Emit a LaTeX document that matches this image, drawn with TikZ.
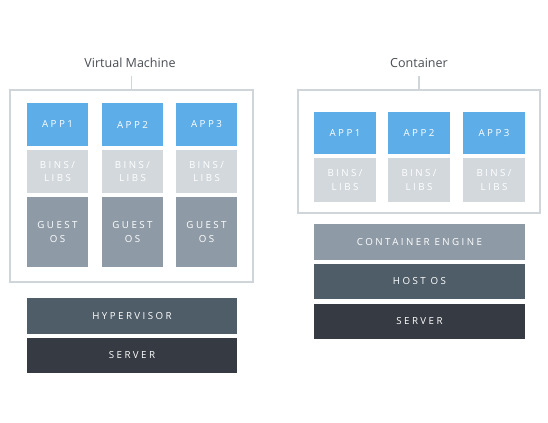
\documentclass[tikz,border=0pt]{standalone}
\usepackage{fontspec}
\setmainfont{Open Sans}
\newfontfamily\lblfont[LetterSpace=25]{Open Sans}
\definecolor{appblue}{HTML}{5DADE8}
\definecolor{binsgray}{HTML}{D3D8DC}
\definecolor{guestgray}{HTML}{8E9BA6}
\definecolor{hypgray}{HTML}{4E5D67}
\definecolor{servgray}{HTML}{363A42}
\definecolor{framegray}{HTML}{D0D5D9}
\definecolor{titlegray}{HTML}{4A4F55}
\begin{document}
\begin{tikzpicture}[x=0.75pt,y=-0.75pt,
  blk/.style={draw=none, inner sep=0pt, text=white, font=\lblfont\fontsize{7.3}{9.8}\selectfont, align=center},
  app/.style={blk, fill=appblue, minimum width=61*0.75pt, minimum height=43*0.75pt},
  bins/.style={blk, fill=binsgray, minimum width=61*0.75pt, minimum height=43*0.75pt},
  guest/.style={blk, fill=guestgray, minimum width=61*0.75pt, minimum height=70*0.75pt},
  wide/.style={blk, minimum width=210*0.75pt, minimum height=36*0.75pt},
  frame/.style={draw=framegray, line width=1.3pt, fill=white, inner sep=0pt},
  ttl/.style={text=titlegray, font=\fontsize{9.4}{11}\selectfont, inner sep=1pt},
  conn/.style={draw=framegray, line width=1.3pt}]
\useasboundingbox[fill=white] (0,0) rectangle (548,422);
% Virtual machine
\node[ttl] (vmt) at (130,63) {Virtual Machine};
\node[frame, minimum width=243*0.75pt, minimum height=192*0.75pt] (vm) at (131.5,186) {};
\draw[conn] (vm.north) -- ++(0,-13) coordinate (vmtop);
\node[app] (va1) at (57.5,124.5) {APP1};
\node[app] (va2) at (132.5,124.5) {APP2};
\node[app] (va3) at (206.5,124.5) {APP3};
\node[bins] (vb1) at (57.5,171.5) {BINS/\\LIBS};
\node[bins] (vb2) at (132.5,171.5) {BINS/\\LIBS};
\node[bins] (vb3) at (206.5,171.5) {BINS/\\LIBS};
\node[guest] (vg1) at (57.5,232) {GUEST\\OS};
\node[guest] (vg2) at (132.5,232) {GUEST\\OS};
\node[guest] (vg3) at (206.5,232) {GUEST\\OS};
\node[wide, fill=hypgray] (hyp) at (132,316) {HYPERVISOR};
\node[wide, fill=servgray, minimum height=35*0.75pt] (vsrv) at (132,355.5) {SERVER};
% Container
\node[ttl] (ct) at (419,63) {Container};
\node[frame, minimum width=242*0.75pt, minimum height=123*0.75pt] (cb) at (419,151.5) {};
\draw[conn] (cb.north) -- ++(0,-13) coordinate (ctop);
\node[app, minimum width=62*0.75pt, minimum height=42*0.75pt] (ca1) at (345,133) {APP1};
\node[app, minimum width=62*0.75pt, minimum height=42*0.75pt] (ca2) at (419,133) {APP2};
\node[app, minimum width=62*0.75pt, minimum height=42*0.75pt] (ca3) at (494,133) {APP3};
\node[bins, minimum width=62*0.75pt, minimum height=44*0.75pt] (cb1) at (345,180) {BINS/\\LIBS};
\node[bins, minimum width=62*0.75pt, minimum height=44*0.75pt] (cb2) at (419,180) {BINS/\\LIBS};
\node[bins, minimum width=62*0.75pt, minimum height=44*0.75pt] (cb3) at (494,180) {BINS/\\LIBS};
\node[wide, fill=guestgray, minimum width=211*0.75pt] (eng) at (419.5,242) {CONTAINER ENGINE};
\node[wide, fill=hypgray, minimum width=211*0.75pt, minimum height=35*0.75pt] (host) at (419.5,281.5) {HOST OS};
\node[wide, fill=servgray, minimum width=211*0.75pt, minimum height=35*0.75pt] (csrv) at (419.5,321.5) {SERVER};
\end{tikzpicture}
\end{document}
